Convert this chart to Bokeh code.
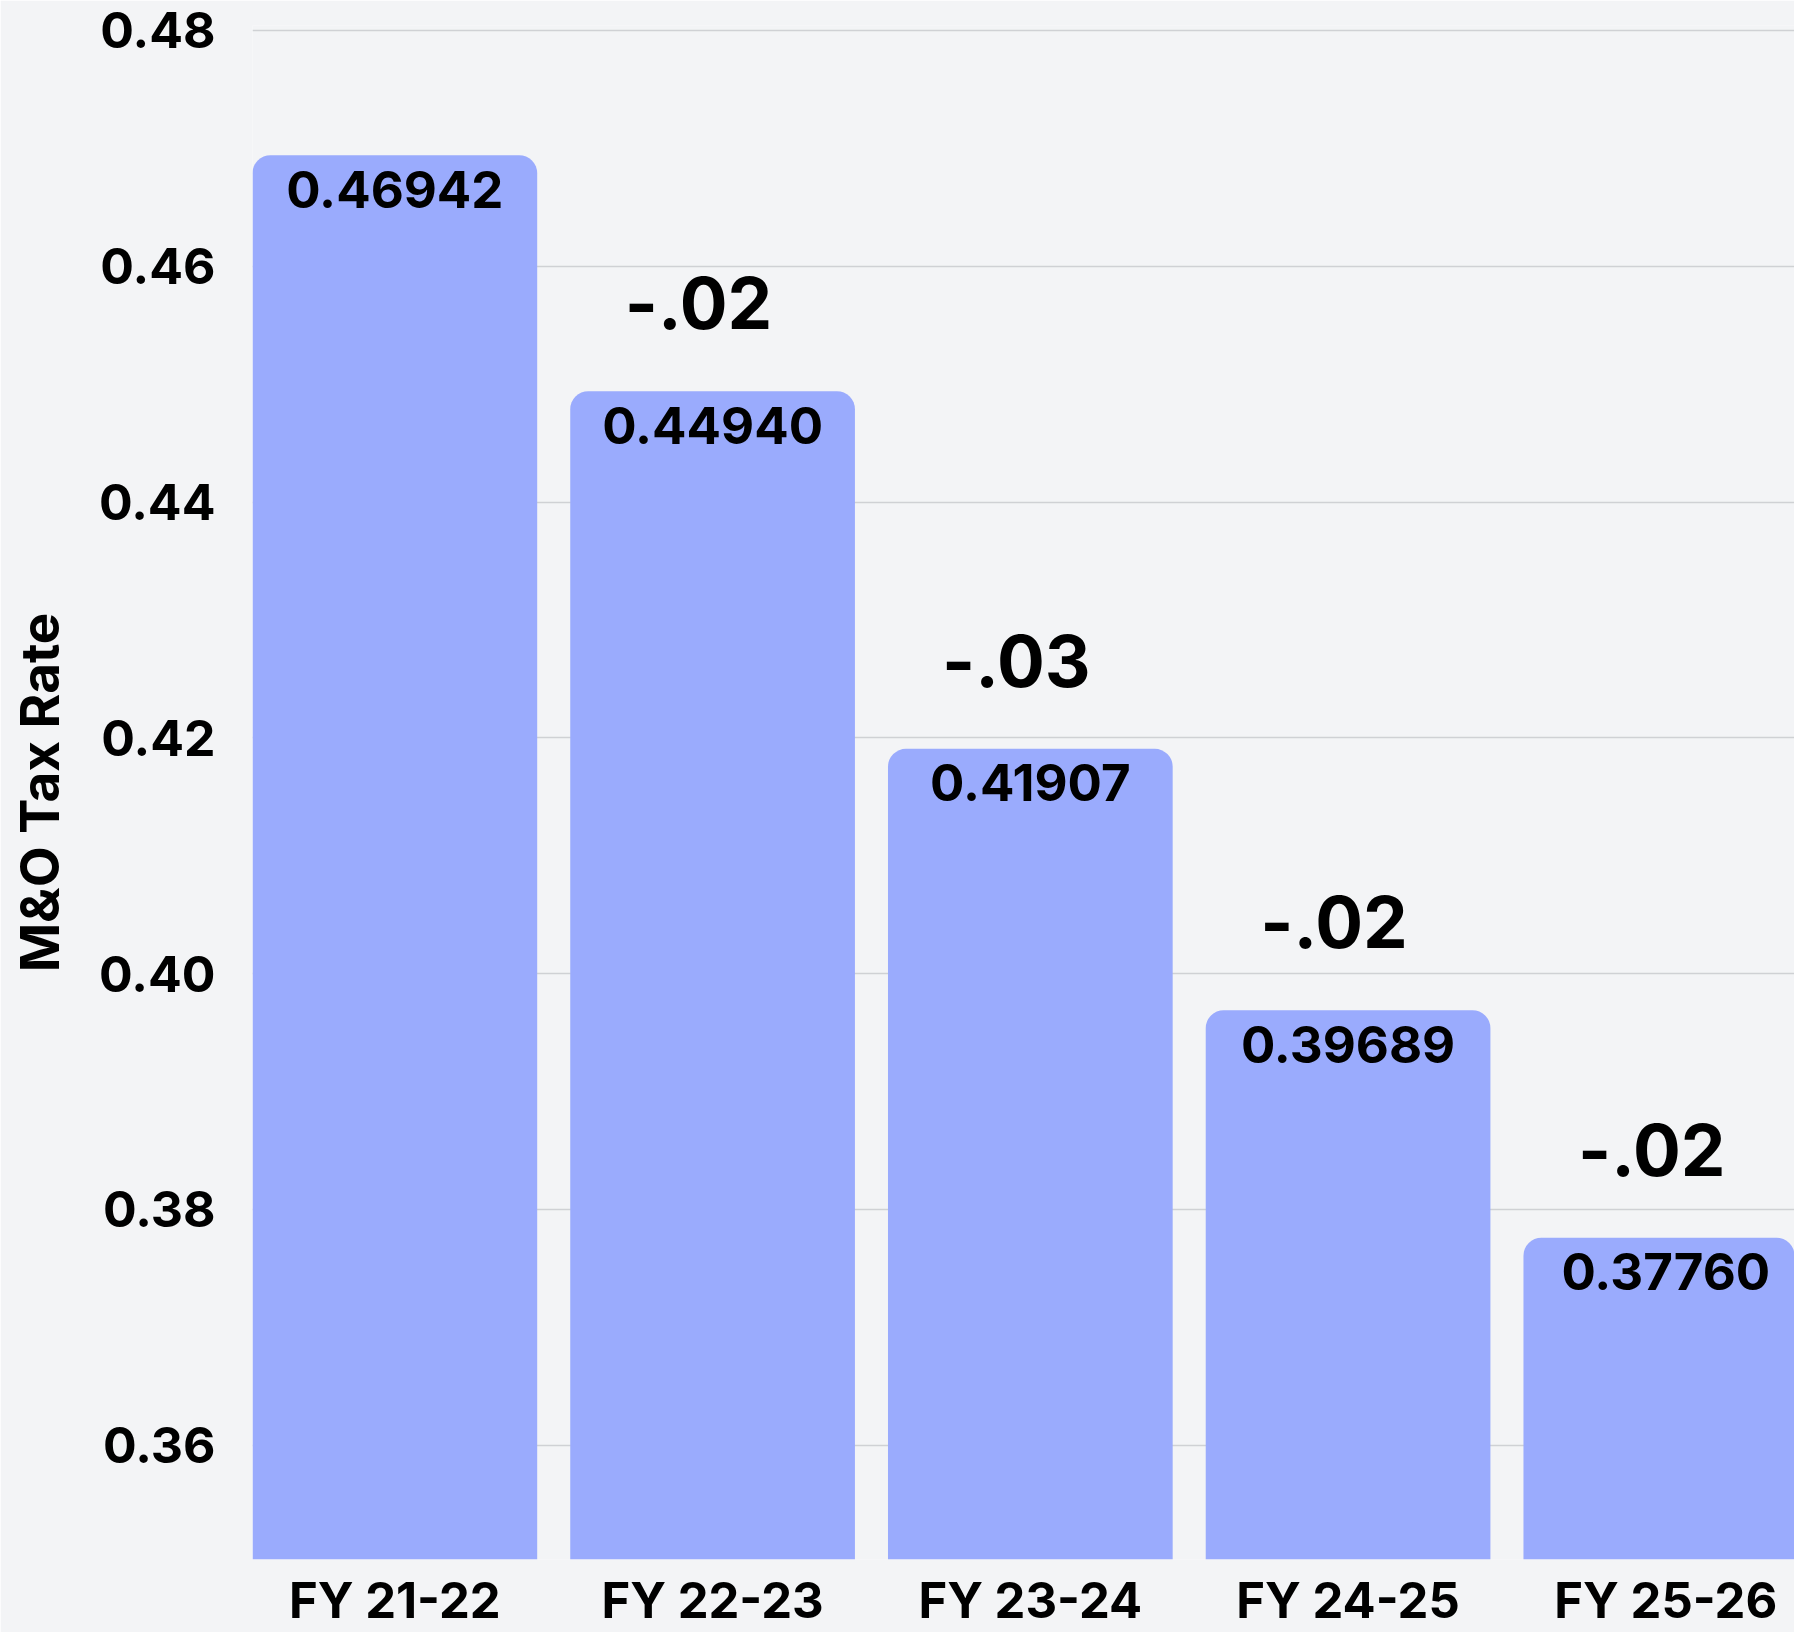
from bokeh.plotting import figure
from bokeh.models import Range1d, FixedTicker, NumeralTickFormatter, ColumnDataSource
from bokeh.core.properties import value
from bokeh.embed import file_html
from bokeh.resources import INLINE

categories = ["FY 21-22", "FY 22-23", "FY 23-24", "FY 24-25", "FY 25-26"]
rates = [0.46942, 0.44940, 0.41907, 0.39689, 0.37760]
changes = ["-.02", "-.03", "-.02", "-.02"]
y_ticks = [0.36, 0.38, 0.40, 0.42, 0.44, 0.46, 0.48]

FONT = "Inter"
BG = "#f3f4f6"
BAR = "#9aabfd"

idx = list(range(len(categories)))
src = ColumnDataSource(dict(x=idx, top=rates, label=[f"{r:.5f}" for r in rates]))
chg = ColumnDataSource(dict(x=idx[1:], y=rates[1:], label=changes))

p = figure(width=1794, height=1632, output_backend="svg", toolbar_location=None,
           x_range=Range1d(-0.448, 4.405), y_range=Range1d(0.3503, 0.48042),
           min_border_left=252, min_border_right=0, min_border_top=25, min_border_bottom=60,
           background_fill_color=BG, border_fill_color=BG, outline_line_color=None)

p.vbar(x="x", top="top", bottom=0.35, width=0.896, source=src,
       fill_color=BAR, line_color=None, border_radius=(18, 18, 0, 0))

p.text(x="x", y="top", text="label", source=src, y_offset=34,
       text_align="center", text_baseline="middle",
       text_font=value(FONT), text_font_style="bold", text_font_size="51px",
       text_color="#000000")

p.text(x="x", y="y", text="label", source=chg, y_offset=-88, x_offset=-14,
       text_align="center", text_baseline="middle",
       text_font=value(FONT), text_font_style="bold", text_font_size="71px",
       text_color="#000000")

# y axis
p.yaxis.ticker = FixedTicker(ticks=y_ticks)
p.yaxis.formatter = NumeralTickFormatter(format="0.00")
p.yaxis.axis_label = "M&O Tax Rate"
p.yaxis.axis_label_text_font = FONT
p.yaxis.axis_label_text_font_style = "bold"
p.yaxis.axis_label_text_font_size = "53px"
p.yaxis.axis_label_text_color = "#000000"
p.yaxis.axis_label_standoff = 24
p.yaxis.major_label_text_font = FONT
p.yaxis.major_label_text_font_style = "bold"
p.yaxis.major_label_text_font_size = "50px"
p.yaxis.major_label_text_color = "#000000"
p.yaxis.major_label_standoff = 31
p.yaxis.axis_line_color = None
p.yaxis.major_tick_line_color = None
p.yaxis.minor_tick_line_color = None

# x axis
p.xaxis.ticker = FixedTicker(ticks=idx)
p.xaxis.major_label_overrides = {i: c for i, c in zip(idx, categories)}
p.xaxis.major_label_text_font = FONT
p.xaxis.major_label_text_font_style = "bold"
p.xaxis.major_label_text_font_size = "49px"
p.xaxis.major_label_text_color = "#000000"
p.xaxis.major_label_standoff = 5
p.xaxis.axis_line_color = None
p.xaxis.major_tick_line_color = None
p.xaxis.minor_tick_line_color = None

p.xgrid.visible = False
p.ygrid.ticker = FixedTicker(ticks=y_ticks)
p.ygrid.grid_line_color = "#cfd1d4"
p.ygrid.grid_line_width = 1.5

open("out.html", "w").write(file_html(p, INLINE))
